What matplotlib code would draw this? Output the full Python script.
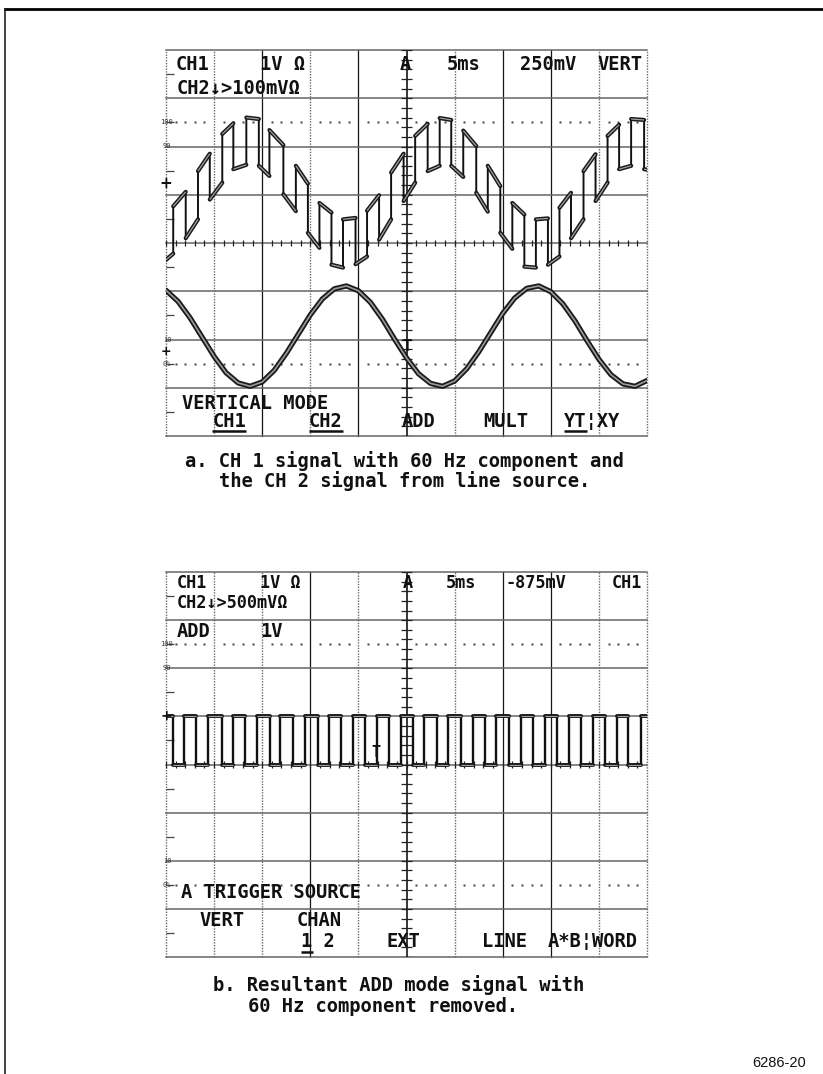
import matplotlib
matplotlib.use("Agg")
import matplotlib.pyplot as plt
from matplotlib.collections import LineCollection
from matplotlib.lines import Line2D
import numpy as np

# ---- data read off the two scope screens (units = graticule divisions) ----
# screen a, CH1: square wave riding on the line-frequency sine (trace vertices)
ch1_x = [0.0, 0.15, 0.15, 0.41, 0.41, 0.665, 0.665, 0.91, 0.91, 1.17, 1.17, 1.40, 1.40,
         1.67, 1.67, 1.93, 1.93, 2.15, 2.15, 2.44, 2.44, 2.70, 2.70, 2.95, 2.95, 3.19,
         3.19, 3.44, 3.44, 3.68, 3.68, 3.94, 3.94, 4.18, 4.18, 4.43, 4.43, 4.68, 4.68,
         4.94, 4.94, 5.18, 5.18, 5.44, 5.44, 5.69, 5.69, 5.93, 5.93, 6.18, 6.18, 6.45,
         6.45, 6.69, 6.69, 6.95, 6.95, 7.20, 7.20, 7.45, 7.45, 7.69, 7.69, 7.94, 7.94,
         8.18, 8.18, 8.42, 8.42, 8.68, 8.68, 8.93, 8.93, 9.18, 9.18, 9.42, 9.42, 9.67,
         9.67, 9.94, 9.94, 10.0]
ch1_y = [3.65, 3.78, 4.76, 5.06, 4.10, 4.49, 5.49, 5.85, 4.90, 5.25, 6.26, 6.48, 5.53,
         5.62, 6.60, 6.57, 5.60, 5.39, 6.34, 6.03, 5.01, 4.66, 5.60, 5.23, 4.21, 3.90,
         4.83, 4.63, 3.55, 3.49, 4.49, 4.52, 3.56, 3.72, 4.67, 4.99, 4.07, 4.49, 5.46,
         5.85, 4.87, 5.25, 6.22, 6.47, 5.49, 5.60, 6.59, 6.55, 5.60, 5.37, 6.33, 6.01,
         5.04, 4.65, 5.60, 5.18, 4.21, 3.88, 4.83, 4.59, 3.51, 3.49, 4.49, 4.51, 3.55,
         3.72, 4.73, 5.04, 4.10, 4.49, 5.49, 5.84, 4.87, 5.25, 6.22, 6.45, 5.53, 5.60,
         6.57, 6.55, 5.53, 5.52]

# screen a, CH2: line-source sine
ch2_x = [0.0, 0.25, 0.5, 0.75, 1.0, 1.25, 1.5, 1.75, 2.0, 2.25, 2.5, 2.75, 3.0, 3.25,
         3.5, 3.75, 4.0, 4.25, 4.5, 4.75, 5.0, 5.25, 5.5, 5.75, 6.0, 6.25, 6.5, 6.75,
         7.0, 7.25, 7.5, 7.75, 8.0, 8.25, 8.5, 8.75, 9.0, 9.25, 9.5, 9.75, 10.0]
ch2_y = [3.02, 2.79, 2.45, 2.05, 1.65, 1.31, 1.10, 1.03, 1.12, 1.36, 1.71, 2.11, 2.51,
         2.84, 3.05, 3.11, 3.01, 2.77, 2.42, 2.01, 1.62, 1.29, 1.09, 1.03, 1.14, 1.39,
         1.74, 2.14, 2.54, 2.86, 3.06, 3.11, 2.99, 2.74, 2.39, 1.98, 1.59, 1.27, 1.08,
         1.03, 1.15]

# screen b, ADD result: square wave, low intervals
add_low_start = [0.14, 0.62, 1.16, 1.64, 2.16, 2.65, 3.15, 3.64, 4.14, 4.64, 5.13, 5.64,
                 6.13, 6.63, 7.14, 7.63, 8.13, 8.63, 9.13, 9.61]
add_low_end = [0.37, 0.88, 1.39, 1.89, 2.38, 2.89, 3.39, 3.88, 4.38, 4.88, 5.36, 5.87,
               6.38, 6.87, 7.38, 7.88, 8.38, 8.87, 9.37, 9.87]
add_high = 5.0
add_low = 4.0

W, H = 823, 1074
fig = plt.figure(figsize=(W / 100, H / 100), dpi=100)
fig.patch.set_facecolor("white")

MONO = "DejaVu Sans Mono"
FS = 13.5


def screen(top, bottom):
    ax = fig.add_axes([166 / W, 1 - bottom / H, 481 / W, (bottom - top) / H])
    ax.set_xlim(0, 10)
    ax.set_ylim(0, 8)
    ax.axis("off")
    return ax


def graticule(ax, dark_cols):
    for i in range(11):
        if i == 5:
            continue
        if i in dark_cols:
            ax.axvline(i, color="#151515", lw=0.9, clip_on=False)
        else:
            ax.axvline(i, color="#6a6a6a", lw=1.0, ls=(0, (1, 1)), clip_on=False)
    for j in range(9):
        ax.axhline(j, color="#666666", lw=1.1, clip_on=False)
    ax.axvline(5, color="black", lw=1.1)
    # minor ticks on the centre lines
    t = np.arange(0, 10.001, 0.2)
    ax.add_collection(LineCollection([[(v, 3.93), (v, 4.07)] for v in t],
                                     colors="#222", lw=0.9))
    t = np.arange(0, 8.001, 0.2)
    ax.add_collection(LineCollection([[(4.89, v), (5.11, v)] for v in t],
                                     colors="#222", lw=0.9))
    ax.add_collection(LineCollection([[(0, v), (0.16, v)] for v in np.arange(0.5, 8, 1.0)],
                                     colors="#444", lw=0.9))
    # 0 % / 100 % dotted reference lines
    dx = [k + f for k in range(10) for f in (0.2, 0.4, 0.6, 0.8)]
    for lvl in (6.5, 1.5):
        ax.plot(dx, [lvl] * len(dx), ls="none", marker="s", ms=1.7, color="#444",
                mec="none")
    for s, yy in (("100", 6.5), ("90", 6.0), ("10", 2.0), ("0%", 1.5)):
        ax.text(0.02, yy, s, fontsize=5, family=MONO, ha="center", va="center",
                color="#333", clip_on=False)


def txt(ax, x, y, s, fs=FS, **kw):
    ax.text(x, y, s, family=MONO, weight="bold", fontsize=fs, ha="left", va="center",
            color="#111", **kw)


def underline(ax, x0, x1, y):
    ax.plot([x0, x1], [y, y], color="#111", lw=1.8, solid_capstyle="butt")


def hollow_segments(ax, segs, lw_out=3.4, lw_in=1.1):
    ax.add_collection(LineCollection(segs, colors="#1a1a1a", lw=lw_out, capstyle="round"))
    ax.add_collection(LineCollection(segs, colors="#a0a0a0", lw=lw_in))


# ---------------- screen a ----------------
ax_a = screen(50, 436)
graticule(ax_a, dark_cols=[2, 4, 7, 8])

ax_a.plot(ch1_x, ch1_y, color="#111", lw=1.4)
slopes = [[(ch1_x[i], ch1_y[i]), (ch1_x[i + 1], ch1_y[i + 1])]
          for i in range(len(ch1_x) - 1) if ch1_x[i + 1] != ch1_x[i]]
hollow_segments(ax_a, slopes, lw_out=3.0, lw_in=0.9)

ax_a.plot(ch2_x, ch2_y, color="#1a1a1a", lw=3.8, solid_capstyle="round")
ax_a.plot(ch2_x, ch2_y, color="#9a9a9a", lw=1.2)

txt(ax_a, 0.21, 7.69, "CH1")
txt(ax_a, 1.95, 7.69, "1V Ω")
ax_a.text(4.97, 7.69, "A", family=MONO, weight="bold", fontsize=FS, ha="center",
          va="center", color="#111")
txt(ax_a, 5.84, 7.69, "5ms")
txt(ax_a, 7.36, 7.69, "250mV")
txt(ax_a, 8.98, 7.69, "VERT")
txt(ax_a, 0.23, 7.21, "CH2↓>100mVΩ")
txt(ax_a, 0.33, 0.68, "VERTICAL MODE")
txt(ax_a, 0.96, 0.31, "CH1")
txt(ax_a, 2.97, 0.31, "CH2")
txt(ax_a, 4.89, 0.31, "ADD")
txt(ax_a, 6.59, 0.31, "MULT")
txt(ax_a, 8.27, 0.31, "YT¦XY")
underline(ax_a, 0.96, 1.66, 0.10)
underline(ax_a, 2.97, 3.68, 0.10)
underline(ax_a, 8.27, 8.76, 0.10)
ax_a.text(0.0, 5.24, "+", fontsize=11, weight="bold", ha="center", va="center",
          color="#111", clip_on=False)
ax_a.text(0.0, 1.75, "+", fontsize=9, weight="bold", ha="center", va="center",
          color="#111", clip_on=False)
ax_a.text(5.0, 1.86, "T", family=MONO, weight="bold", fontsize=11, ha="center",
          va="center", color="#111")

# ---------------- screen b ----------------
ax_b = screen(572, 957)
graticule(ax_b, dark_cols=[3, 7, 8])

sq_x, sq_y = [0.0], [add_high]
for s, e in zip(add_low_start, add_low_end):
    sq_x += [s, s, e, e]
    sq_y += [add_high, add_low, add_low, add_high]
sq_x.append(10.0)
sq_y.append(add_high)
ax_b.plot(sq_x, sq_y, color="#111", lw=1.7)
flats = [[(sq_x[i], sq_y[i]), (sq_x[i + 1], sq_y[i + 1])]
         for i in range(len(sq_x) - 1) if sq_x[i + 1] != sq_x[i]]
hollow_segments(ax_b, flats, lw_out=2.8, lw_in=0.8)

TOP_FS = 12.2
txt(ax_b, 0.23, 7.78, "CH1", fs=TOP_FS)
txt(ax_b, 1.95, 7.78, "1V Ω", fs=TOP_FS)
ax_b.text(5.03, 7.78, "A", family=MONO, weight="bold", fontsize=TOP_FS, ha="center",
          va="center", color="#111")
txt(ax_b, 5.82, 7.78, "5ms", fs=TOP_FS)
txt(ax_b, 7.05, 7.78, "-875mV", fs=TOP_FS)
txt(ax_b, 9.27, 7.78, "CH1", fs=TOP_FS)
txt(ax_b, 0.23, 7.36, "CH2↓>500mVΩ", fs=TOP_FS)
txt(ax_b, 0.23, 6.76, "ADD")
txt(ax_b, 1.95, 6.76, "1V")
txt(ax_b, 0.31, 1.33, "A TRIGGER SOURCE")
txt(ax_b, 0.69, 0.75, "VERT")
txt(ax_b, 2.72, 0.75, "CHAN")
txt(ax_b, 2.81, 0.33, "1 2")
underline(ax_b, 2.81, 3.05, 0.10)
txt(ax_b, 4.59, 0.33, "EXT")
txt(ax_b, 6.57, 0.33, "LINE")
txt(ax_b, 7.94, 0.33, "A*B¦WORD")
ax_b.text(0.0, 5.0, "+", fontsize=10, weight="bold", ha="center", va="center",
          color="#111", clip_on=False)
ax_b.text(4.36, 4.25, "T", family=MONO, weight="bold", fontsize=11, ha="center",
          va="center", color="#111")


# ---------------- captions ----------------
def cap(xp, yp, s):
    fig.text(xp / W, 1 - yp / H, s, family=MONO, weight="bold", fontsize=FS,
             ha="left", va="center", color="#111")


cap(185, 461, "a. CH 1 signal with 60 Hz component and")
cap(219, 481, "the CH 2 signal from line source.")
cap(213, 985, "b. Resultant ADD mode signal with")
cap(248, 1006, "60 Hz component removed.")
fig.text(752 / W, 1 - 1063 / H, "6286-20", family="Liberation Sans", fontsize=10.5,
         ha="left", va="center", color="#111")

# page border (top and left edges of the scanned page)
fig.add_artist(Line2D([5 / W, 1.0], [1 - 9 / H, 1 - 9 / H], color="black", lw=2.0))
fig.add_artist(Line2D([5 / W, 5 / W], [0.0, 1 - 9 / H], color="#222", lw=1.2))

fig.savefig("out.png", dpi=100, facecolor="white")
